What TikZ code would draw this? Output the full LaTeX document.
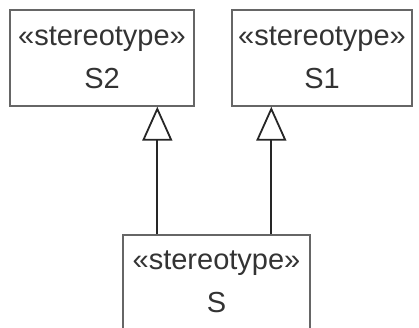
\documentclass[tikz,border=0pt]{standalone}
\usepackage{fontspec}
\setmainfont{Liberation Sans}
\usetikzlibrary{arrows.meta}
\begin{document}
\begin{tikzpicture}[x=1pt, y=1pt,
    classbox/.style={draw=black!60, line width=1.4pt, rectangle, align=center,
        text=black!80, font=\fontsize{29}{43}\selectfont, inner sep=0pt},
    gen/.style={line width=1.8pt, draw=black!85,
        -{Triangle[open, length=34pt, width=30pt, line width=1.8pt]}}]
    \useasboundingbox (0, 0) rectangle (419, 328);

    \node[classbox, minimum width=184pt, minimum height=96pt] (s2) at (102, 270) {«stereotype»\\S2};
    \node[classbox, minimum width=180pt, minimum height=96pt] (s1) at (322, 270) {«stereotype»\\S1};
    \node[classbox, minimum width=187pt, minimum height=94pt] (s) at (216.5, 46) {«stereotype»\\S};

    \coordinate (a) at ([xshift=35pt]s.north west);
    \coordinate (b) at ([xshift=149pt]s.north west);
    \draw[gen] (a) -- (a |- s2.south);
    \draw[gen] (b) -- (b |- s1.south);
\end{tikzpicture}
\end{document}
